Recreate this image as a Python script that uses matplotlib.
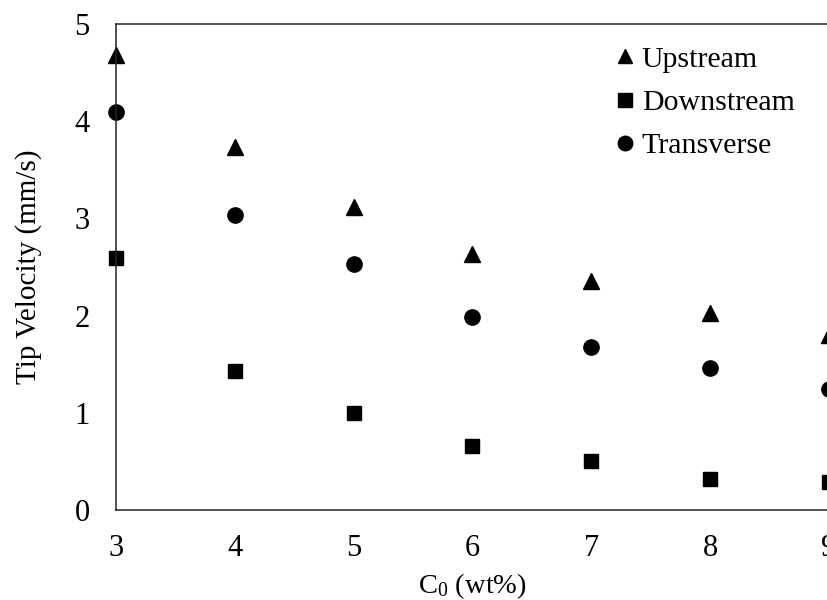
import numpy as np
import matplotlib
matplotlib.use('Agg')
import matplotlib.pyplot as plt

plt.rcParams['font.family'] = ['Liberation Serif', 'DejaVu Serif']
plt.rcParams['mathtext.fontset'] = 'custom'
plt.rcParams['mathtext.rm'] = 'Liberation Serif'
plt.rcParams['mathtext.it'] = 'Liberation Serif:italic'

# concentration (wt%)
c0 = [3, 4, 5, 6, 7, 8, 9]
# tip velocities (mm/s)
upstream = [4.68, 3.73, 3.12, 2.63, 2.36, 2.03, 1.80]
downstream = [2.59, 1.43, 1.00, 0.66, 0.50, 0.32, 0.29]
transverse = [4.09, 3.03, 2.53, 1.99, 1.68, 1.46, 1.24]

fig = plt.figure(figsize=(8.28, 6), dpi=100)
# axes run past the right edge, like the cropped original
ax = fig.add_axes([116 / 828, 90 / 600, 713 / 828, 486 / 600])

ax.plot(c0, upstream, linestyle='none', marker='^', ms=11, color='black',
        label='Upstream', clip_on=False)
ax.plot(c0, downstream, linestyle='none', marker='s', ms=10.5, color='black',
        label='Downstream', clip_on=False)
ax.plot(c0, transverse, linestyle='none', marker='o', ms=11, color='black',
        label='Transverse', clip_on=False)

ax.set_xlim(3, 9)
ax.set_ylim(0, 5)
ax.set_xticks(np.arange(3, 10))
ax.set_yticks(np.arange(0, 6))
for lab in ax.get_xticklabels() + ax.get_yticklabels():
    lab.set_clip_on(False)
ax.tick_params(length=0, labelsize=22)
ax.tick_params(axis='x', pad=17)
ax.tick_params(axis='y', pad=19)

for s in ax.spines.values():
    s.set_linewidth(1.1)
    s.set_color('#222222')
    s.set_clip_on(False)

ax.set_ylabel('Tip Velocity (mm/s)', fontsize=21, labelpad=23)
ax.set_xlabel('C$_0$ (wt%)', fontsize=20.5, labelpad=6)

leg = ax.legend(loc='upper left', bbox_to_anchor=(603 / 828, 1 - 31 / 600),
                bbox_transform=fig.transFigure, frameon=False,
                fontsize=21.5, handlelength=0.5, handletextpad=0.3,
                labelspacing=0.55, markerscale=0.95, borderpad=0)

plt.savefig('out.png', dpi=100)
